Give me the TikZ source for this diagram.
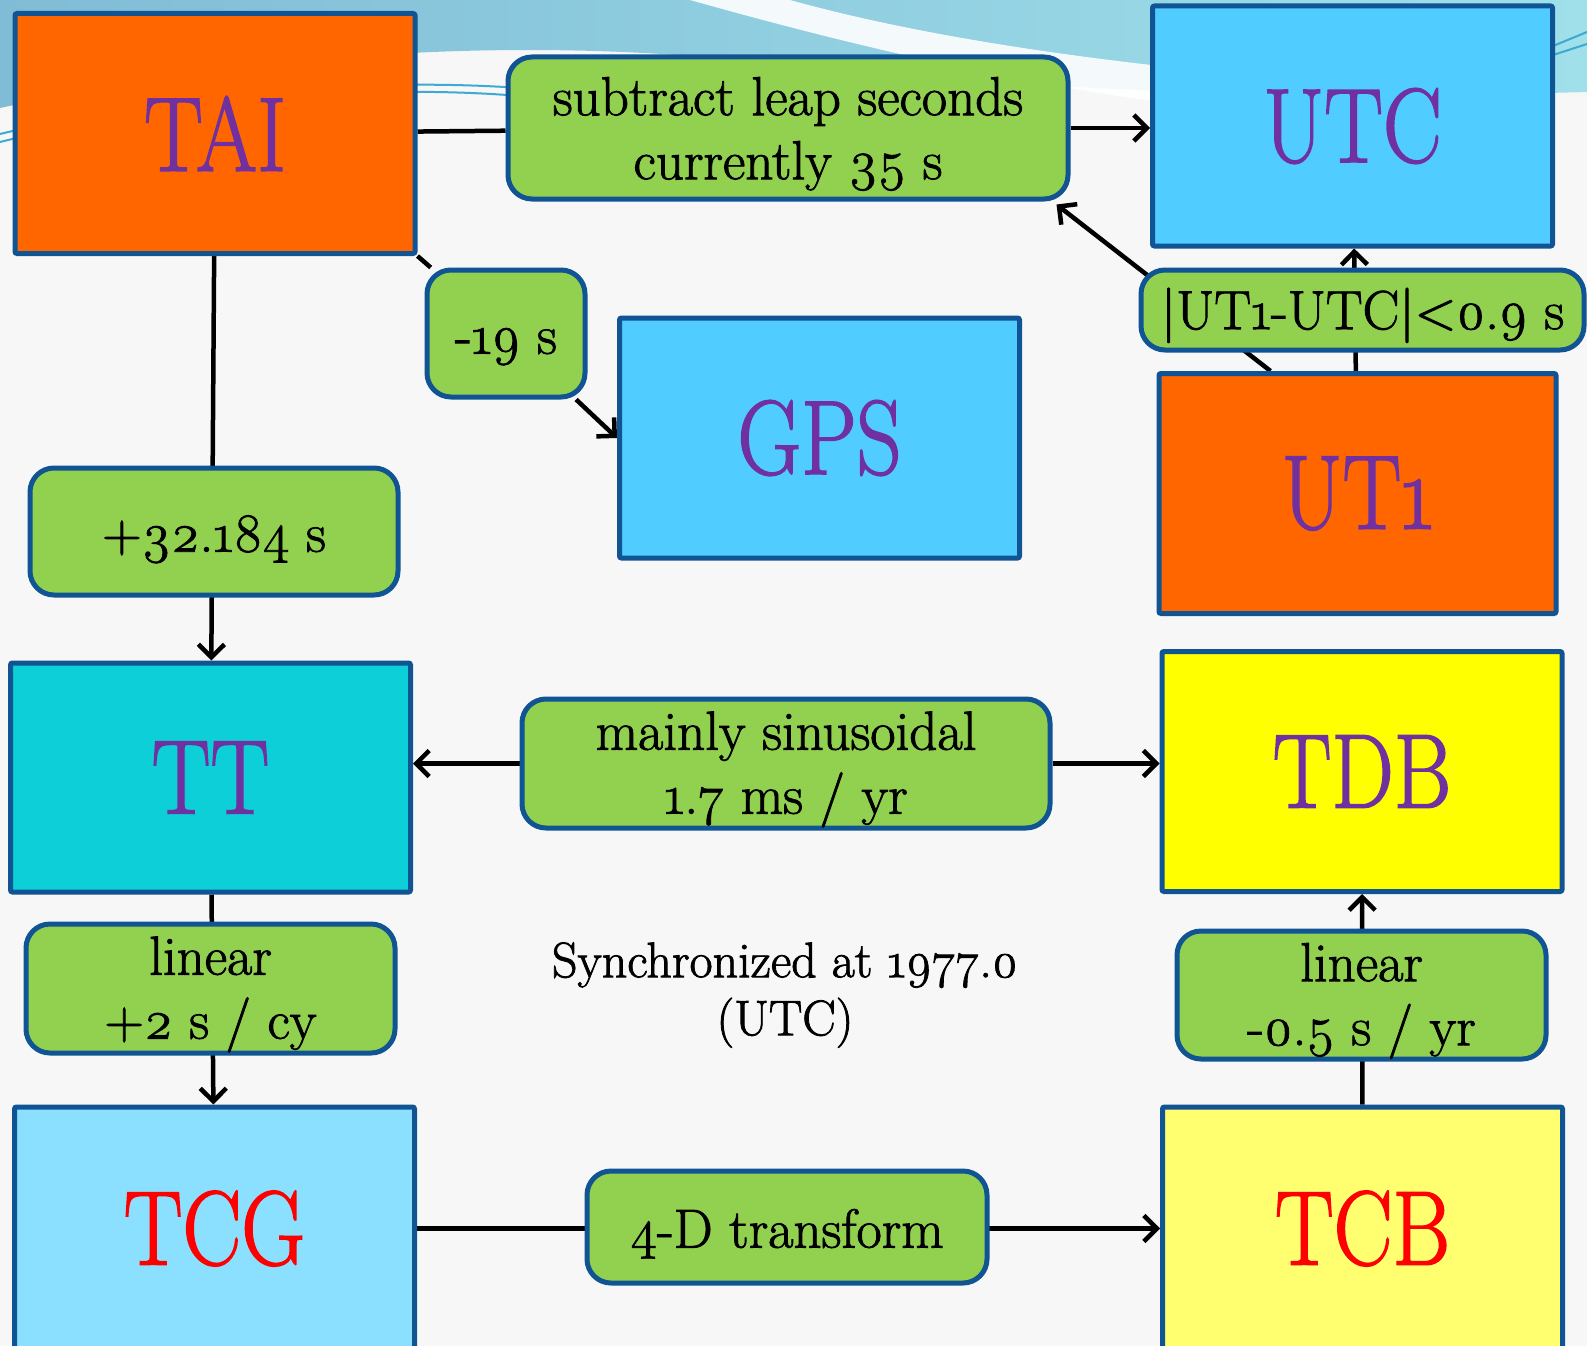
\documentclass[tikz,border=0pt]{standalone}
\usepackage{fontspec}
\setmainfont{Latin Modern Roman}[Numbers=OldStyle,
	BoldFont={Latin Modern Roman}, BoldFeatures={FakeBold=1.6}]
\usepackage{graphicx}
\usetikzlibrary{arrows.meta}

\definecolor{boxborder}{RGB}{16,84,148}
\definecolor{taiorange}{RGB}{255,102,0}
\definecolor{utcblue}{RGB}{80,204,255}
\definecolor{ttcyan}{RGB}{13,207,216}
\definecolor{tcgblue}{RGB}{140,224,255}
\definecolor{tdbyellow}{RGB}{255,255,0}
\definecolor{tcbyellow}{RGB}{255,255,112}
\definecolor{rulegreen}{RGB}{146,208,80}
\definecolor{namepurple}{RGB}{112,48,160}
\definecolor{wavedark}{RGB}{128,188,214}
\definecolor{wavelight}{RGB}{160,224,234}
\definecolor{waveline}{RGB}{60,170,210}

\pgfdeclarelayer{back}
\pgfdeclarelayer{wires}
\pgfsetlayers{back,wires,main}

\newcommand{\tallname}[1]{\scalebox{1}[1.2]{#1}}

\begin{document}
\begin{tikzpicture}[x=1pt, y=-1pt,
	timescale/.style={draw=boxborder, line width=5pt, rounded corners=2pt,
		minimum width=400pt, minimum height=240pt, inner sep=0pt,
		text=namepurple, font=\fontsize{88}{90}\selectfont\bfseries},
	rule/.style={draw=boxborder, fill=rulegreen, line width=5pt,
		rounded corners=24pt, align=center, inner sep=0pt, text height=52pt,
		font=\fontsize{55}{64}\selectfont\bfseries},
	tworow/.style={text height=114pt},
	link/.style={line width=4.5pt, black},
	arr/.style={link, -{Straight Barb[length=13pt,width=26pt]}}]
	\useasboundingbox (0,0) rectangle (1587,1346);

	% Background
	\begin{pgfonlayer}{back}
		\fill[black!3] (0,0) rectangle (1587,1346);
		\shade[left color=wavedark, right color=wavelight] (0,0) -- (1587,0) -- (1587,92)
			.. controls (1300,100) and (1000,90) .. (760,62)
			.. controls (500,35) and (250,55) .. (0,108) -- cycle;
		\fill[white, opacity=.9] (690,0) .. controls (850,45) and (1000,80) .. (1160,102)
			-- (1160,66) .. controls (1000,48) and (880,25) .. (790,0) -- cycle;
		\draw[waveline, line width=2pt] (0,142) .. controls (150,105) and (350,82) .. (520,96);
		\draw[waveline, line width=2pt] (0,134) .. controls (150,98) and (350,76) .. (520,88);
		\draw[waveline, line width=2pt] (1553,46) -- (1587,32);
		\draw[waveline, line width=2pt] (1553,55) -- (1587,44);
	\end{pgfonlayer}

	% Nodes
	\node[timescale, fill=taiorange] (tai) at (215,133.5) {\tallname{TAI}};
	\node[timescale, fill=utcblue] (utc) at (1352.5,126) {\tallname{UTC}};
	\node[timescale, fill=utcblue] (gps) at (819.5,438) {\tallname{GPS}};
	\node[timescale, fill=taiorange, minimum width=397pt] (ut1) at (1357.5,493.5) {\tallname{UT1}};
	\node[timescale, fill=ttcyan, minimum height=229pt] (tt) at (210.5,777.5) {\tallname{TT}};
	\node[timescale, fill=tdbyellow] (tdb) at (1362,771.5) {\tallname{TDB}};
	\node[timescale, fill=tcgblue, text=red, minimum height=243pt] (tcg) at (214.5,1228.5) {\tallname{TCG}};
	\node[timescale, fill=tcbyellow, text=red, minimum height=243pt] (tcb) at (1362.5,1228.5) {\tallname{TCB}};

	\node[rule, tworow, minimum width=560pt, minimum height=142pt] (leap) at (788,128) {subtract leap seconds\\currently 35 s};
	\node[rule, minimum width=158pt, minimum height=127pt] (gpsoff) at (506,333.5) {-19 s};
	\node[rule, minimum width=443pt, minimum height=80pt] (dut) at (1362.5,310) {|UT1-UTC|<0.9 s};
	\node[rule, minimum width=368pt, minimum height=127pt] (ttoff) at (214,531.5) {+32.184 s};
	\node[rule, tworow, minimum width=528pt, minimum height=129pt] (sinus) at (786,763.5) {mainly sinusoidal\\1.7 ms / yr};
	\node[rule, tworow, minimum width=369pt, minimum height=129pt] (lintcg) at (210.5,988.5) {linear\\+2 s / cy};
	\node[rule, tworow, minimum width=369pt, minimum height=128pt] (lintcb) at (1361.5,995) {linear\\-0.5 s / yr};
	\node[rule, minimum width=400pt, minimum height=112pt] (fourd) at (787,1227) {4-D transform};
	\node[align=center, font=\fontsize{50}{58}\selectfont\bfseries] (sync) at (785,995) {Synchronized at 1977.0\\(UTC)};

	% Arrows
	\begin{pgfonlayer}{wires}
		\draw[link] (tai) -- (leap);
		\draw[arr] (leap) -- (leap -| utc.west);
		\draw[link] (tai.south east) -- (gpsoff);
		\draw[arr] (gpsoff) -- (gps.west);
		\draw[arr] (ut1) -- (utc);
		\draw[arr] ([xshift=114pt]ut1.north west) -- ([xshift=-14pt,yshift=-3pt]leap.south east);
		\draw[arr] (tai) -- (tt);
		\draw[arr] (sinus) -- (sinus -| tt.east);
		\draw[arr] (sinus) -- (sinus -| tdb.west);
		\draw[arr] (tt) -- (tcg);
		\draw[arr] (tcb) -- (tdb);
		\draw[arr] (tcg) -- (tcb);
	\end{pgfonlayer}
\end{tikzpicture}
\end{document}
